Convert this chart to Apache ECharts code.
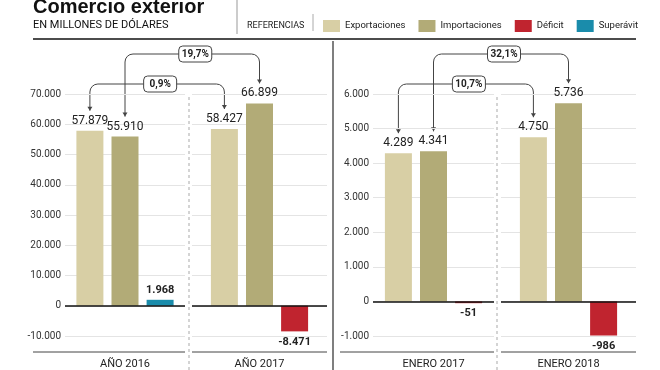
<!DOCTYPE html>
<html>
<head>
<meta charset="utf-8">
<script src="https://cdn.jsdelivr.net/npm/echarts@6/dist/echarts.min.js"></script>
<style>
html,body{margin:0;padding:0;background:#fff;}
#c{width:660px;height:370px;}
</style>
</head>
<body>
<div id="c"></div>
<script>
// ---- data ----
const categories = ['AÑO 2016', 'AÑO 2017', 'ENERO 2017', 'ENERO 2018'];
const exportaciones = [57879, 58427, 4289, 4750];
const importaciones = [55910, 66899, 4341, 5736];
const saldo = [1968, -8471, -51, -986];
const variacionExport = ['0,9%', '10,7%'];   // annual, january
const variacionImport = ['19,7%', '32,1%'];  // annual, january
const ejeAnual = { min: -10000, max: 70000, interval: 10000 };
const ejeEnero = { min: -1000, max: 6000, interval: 1000 };
const seriesNames = ['Exportaciones', 'Importaciones', 'Déficit', 'Superávit'];

const colors = { exp: '#d8cfa5', imp: '#b2ab77', def: '#c0242f', sup: '#1a8cab' };
const FONT = 'Roboto, "Liberation Sans", sans-serif';

function fmt(v) {
  const s = Math.abs(v).toString().replace(/\B(?=(\d{3})+(?!\d))/g, '.');
  return (v < 0 ? '-' : '') + s;
}

const chart = echarts.init(document.getElementById('c'), null, { renderer: 'canvas' });

const grids = [
  { left: 65, top: 94, width: 120, height: 242 },
  { left: 192, top: 94, width: 135, height: 242 },
  { left: 373, top: 94, width: 121, height: 242 },
  { left: 501, top: 94, width: 135, height: 242 }
];

const xAxes = [], yAxes = [], series = [];
for (let i = 0; i < 4; i++) {
  const ax = i < 2 ? ejeAnual : ejeEnero;
  xAxes.push({
    type: 'category', gridIndex: i, data: [categories[i]],
    axisLine: { show: false }, axisTick: { show: false }, splitLine: { show: false },
    axisLabel: { margin: 23, fontSize: 11, color: '#222', fontFamily: FONT }
  });
  yAxes.push({
    type: 'value', gridIndex: i, min: ax.min, max: ax.max, interval: ax.interval,
    axisLine: { show: false }, axisTick: { show: false },
    splitLine: { lineStyle: { color: '#e4e4e4', width: 1 } },
    axisLabel: { show: i === 0 || i === 2, margin: 4, fontSize: 10, color: '#333', fontFamily: FONT, formatter: fmt }
  });
  const common = { type: 'bar', xAxisIndex: i, yAxisIndex: i, barWidth: 27, barGap: '30%' };
  const valLabel = { show: true, position: 'top', distance: 4, fontSize: 12, color: '#222', fontFamily: FONT, formatter: p => fmt(p.value) };
  series.push(Object.assign({}, common, {
    name: seriesNames[0], data: [exportaciones[i]], itemStyle: { color: colors.exp }, label: valLabel,
    markLine: {
      silent: true, symbol: ['none', 'none'], label: { show: false },
      lineStyle: { color: '#111', width: 1.5, type: 'solid' }, data: [{ yAxis: 0 }]
    }
  }));
  series.push(Object.assign({}, common, {
    name: seriesNames[1], data: [importaciones[i]], itemStyle: { color: colors.imp }, label: valLabel
  }));
  series.push(Object.assign({}, common, {
    name: seriesNames[2], stack: 'bal' + i, data: [saldo[i] < 0 ? saldo[i] : null],
    itemStyle: { color: colors.def },
    label: { show: true, position: 'bottom', distance: 5, fontSize: 11, fontWeight: 'bold', color: '#222', fontFamily: FONT, formatter: p => fmt(p.value) }
  }));
  series.push(Object.assign({}, common, {
    name: seriesNames[3], stack: 'bal' + i, data: [saldo[i] >= 0 ? saldo[i] : null],
    itemStyle: { color: colors.sup },
    label: { show: true, position: 'top', distance: 4, fontSize: 11, fontWeight: 'bold', color: '#222', fontFamily: FONT, formatter: p => fmt(p.value) }
  }));
}

const baseGraphic = [
  { type: 'text', left: 33, top: -3, style: { text: 'Comercio exterior', font: 'bold 20px "Liberation Sans", Arial, sans-serif', fill: '#111' } },
  { type: 'text', left: 33, top: 20, style: { text: 'EN MILLONES DE DÓLARES', font: '11px ' + FONT, fill: '#111' } },
  { type: 'text', left: 247, top: 21, style: { text: 'REFERENCIAS', font: '9px ' + FONT, fill: '#222' } },
  { type: 'line', shape: { x1: 237, y1: 0, x2: 237, y2: 34 }, style: { stroke: '#999', lineWidth: 1 } },
  { type: 'line', shape: { x1: 313, y1: 14, x2: 313, y2: 31 }, style: { stroke: '#aaa', lineWidth: 1 } },
  { type: 'line', shape: { x1: 33, y1: 39, x2: 636, y2: 39 }, style: { stroke: '#111', lineWidth: 1.5 } },
  { type: 'line', shape: { x1: 333, y1: 41, x2: 333, y2: 370 }, style: { stroke: '#555', lineWidth: 1.5 } },
  { type: 'line', shape: { x1: 189, y1: 97, x2: 189, y2: 370 }, style: { stroke: '#aaa', lineWidth: 1, lineDash: [3, 3] } },
  { type: 'line', shape: { x1: 497, y1: 97, x2: 497, y2: 370 }, style: { stroke: '#aaa', lineWidth: 1, lineDash: [3, 3] } },
  { type: 'line', shape: { x1: 33, y1: 352, x2: 185, y2: 352 }, style: { stroke: '#444', lineWidth: 1 } },
  { type: 'line', shape: { x1: 192, y1: 352, x2: 327, y2: 352 }, style: { stroke: '#444', lineWidth: 1 } },
  { type: 'line', shape: { x1: 340, y1: 352, x2: 494, y2: 352 }, style: { stroke: '#444', lineWidth: 1 } },
  { type: 'line', shape: { x1: 501, y1: 352, x2: 636, y2: 352 }, style: { stroke: '#444', lineWidth: 1 } }
];

chart.setOption({
  animation: false,
  grid: grids,
  xAxis: xAxes,
  yAxis: yAxes,
  series: series,
  legend: {
    data: seriesNames, left: 323, top: 20, width: 337, padding: 0,
    itemWidth: 17, itemHeight: 12, itemGap: 13, icon: 'rect',
    textStyle: { fontSize: 9.5, color: '#222', fontFamily: FONT }, selectedMode: false
  },
  graphic: baseGraphic
});

// ---- comparison brackets, positioned from the axes' own scales ----
const OFF = 35.1; // bar centre offset (barWidth 27 + gap 30%)
function bracket(gA, gB, off, vA, vB, levelY, text) {
  const pa = chart.convertToPixel({ gridIndex: gA }, [0, vA]);
  const pb = chart.convertToPixel({ gridIndex: gB }, [0, vB]);
  const xL = pa[0] + off, xR = pb[0] + off;
  const tL = pa[1] - 20, tR = pb[1] - 20;
  const r = 8, col = '#444';
  const els = [
    { type: 'line', shape: { x1: xL, y1: tL, x2: xL, y2: levelY + r }, style: { stroke: col, lineWidth: 1 } },
    { type: 'arc', shape: { cx: xL + r, cy: levelY + r, r: r, startAngle: Math.PI, endAngle: Math.PI * 1.5 }, style: { stroke: col, lineWidth: 1, fill: null } },
    { type: 'line', shape: { x1: xL + r, y1: levelY, x2: xR - r, y2: levelY }, style: { stroke: col, lineWidth: 1 } },
    { type: 'arc', shape: { cx: xR - r, cy: levelY + r, r: r, startAngle: Math.PI * 1.5, endAngle: Math.PI * 2 }, style: { stroke: col, lineWidth: 1, fill: null } },
    { type: 'line', shape: { x1: xR, y1: levelY + r, x2: xR, y2: tR }, style: { stroke: col, lineWidth: 1 } },
    { type: 'polygon', shape: { points: [[xL - 2.5, tL - 4], [xL + 2.5, tL - 4], [xL, tL]] }, style: { fill: col } },
    { type: 'polygon', shape: { points: [[xR - 2.5, tR - 4], [xR + 2.5, tR - 4], [xR, tR]] }, style: { fill: col } }
  ];
  const cx = (xL + xR) / 2 + 3, w = 33, h = 16;
  els.push({ type: 'rect', shape: { x: cx - w / 2, y: levelY - h / 2, width: w, height: h, r: 4 }, style: { fill: '#fff', stroke: col, lineWidth: 1 } });
  els.push({ type: 'text', x: cx, y: levelY, style: { text: text, font: 'bold 10px ' + FONT, fill: '#222', align: 'center', verticalAlign: 'middle' } });
  return els;
}

let extra = [];
extra = extra.concat(bracket(0, 1, 0, importaciones[0], importaciones[1], 54, variacionImport[0]));
extra = extra.concat(bracket(0, 1, -OFF, exportaciones[0], exportaciones[1], 84, variacionExport[0]));
extra = extra.concat(bracket(2, 3, 0, importaciones[2], importaciones[3], 54, variacionImport[1]));
extra = extra.concat(bracket(2, 3, -OFF, exportaciones[2], exportaciones[3], 84, variacionExport[1]));

chart.setOption({ graphic: baseGraphic.concat(extra) });
</script>
</body>
</html>
